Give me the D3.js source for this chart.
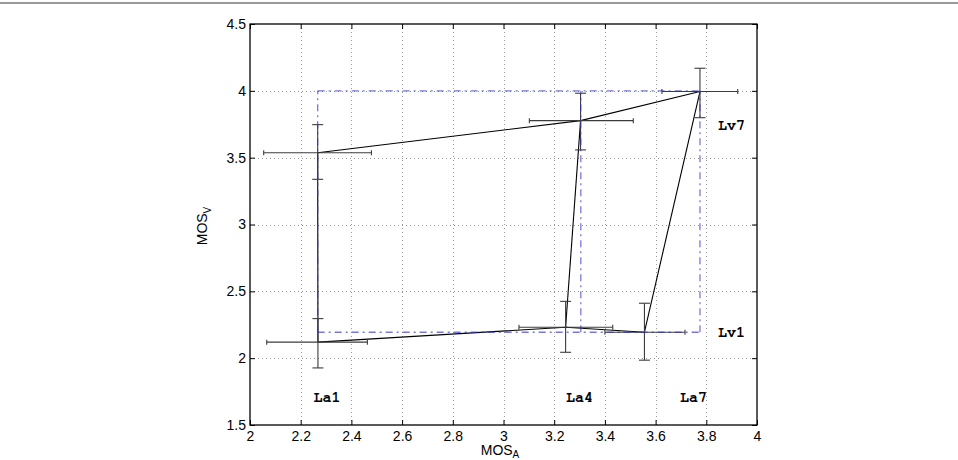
<!DOCTYPE html>
<html>
<head>
<meta charset="utf-8">
<script src="https://cdn.jsdelivr.net/npm/d3@7"></script>
<style>
  html, body { margin: 0; padding: 0; background: #fff; }
  svg { display: block; }
</style>
</head>
<body>
<svg id="chart" width="958" height="460"></svg>
<script>
// ---------- data ----------
const audioLevels = ["La1", "La4", "La7"];
const videoLevels = ["Lv1", "Lv7"];

// Lv1 row (MOS_A, MOS_V and error-bar bounds per audio level)
const lv1_mosA   = [2.268, 3.245, 3.556];
const lv1_mosV   = [2.120, 2.231, 2.194];
const lv1_aLow   = [2.066, 3.061, 3.400];
const lv1_aHigh  = [2.463, 3.431, 3.716];
const lv1_vLow   = [1.927, 2.044, 1.985];
const lv1_vHigh  = [2.296, 2.425, 2.411];

// Lv7 row
const lv7_mosA   = [2.267, 3.304, 3.775];
const lv7_mosV   = [3.537, 3.777, 3.995];
const lv7_aLow   = [2.054, 3.102, 3.625];
const lv7_aHigh  = [2.479, 3.512, 3.924];
const lv7_vLow   = [3.338, 3.558, 3.799];
const lv7_vHigh  = [3.747, 3.982, 4.169];

// reference grid (blue dash-dot)
const refA = [2.267, 3.305, 3.775];
const refV = [2.194, 4.0];

// text annotations (data coordinates)
const annotLabels = ["La1", "La4", "La7", "Lv1", "Lv7"];
const annotX      = [2.25, 3.247, 3.696, 3.846, 3.846];
const annotY      = [1.675, 1.675, 1.675, 2.161, 3.707];

const xTicks = [2, 2.2, 2.4, 2.6, 2.8, 3, 3.2, 3.4, 3.6, 3.8, 4];
const yTicks = [1.5, 2, 2.5, 3, 3.5, 4, 4.5];
const xTickLabels = ["2", "2.2", "2.4", "2.6", "2.8", "3", "3.2", "3.4", "3.6", "3.8", "4"];
const yTickLabels = ["1.5", "2", "2.5", "3", "3.5", "4", "4.5"];

// ---------- layout ----------
const svg = d3.select("#chart");
const L = 250, R = 757, T = 24, B = 425;
const x = d3.scaleLinear().domain([2, 4]).range([L, R]);
const y = d3.scaleLinear().domain([1.5, 4.5]).range([B, T]);

// top page separator
svg.append("line").attr("x1", 0).attr("x2", 958).attr("y1", 3).attr("y2", 3)
  .attr("stroke", "#9a9a9a").attr("stroke-width", 2);

// grid
const grid = svg.append("g").attr("stroke", "#999").attr("stroke-width", 1)
  .attr("stroke-dasharray", "1,3");
grid.selectAll(".gx").data(xTicks.slice(1, -1)).join("line")
  .attr("x1", d => Math.round(x(d)) + 0.5).attr("x2", d => Math.round(x(d)) + 0.5)
  .attr("y1", T).attr("y2", B);
grid.selectAll(".gy").data(yTicks.slice(1, -1)).join("line")
  .attr("y1", d => Math.round(y(d)) + 0.5).attr("y2", d => Math.round(y(d)) + 0.5)
  .attr("x1", L).attr("x2", R);

// axes
const fontFam = "'Liberation Sans', Arial, Helvetica, sans-serif";
const fmtX = d => xTickLabels[xTicks.indexOf(d)];
const fmtY = d => yTickLabels[yTicks.indexOf(d)];

const gB = svg.append("g").attr("transform", `translate(0,${B})`)
  .call(d3.axisBottom(x).tickValues(xTicks).tickFormat(fmtX).tickSize(-5).tickPadding(6));
const gT = svg.append("g").attr("transform", `translate(0,${T})`)
  .call(d3.axisTop(x).tickValues(xTicks).tickFormat("").tickSize(-5));
const gL = svg.append("g").attr("transform", `translate(${L},0)`)
  .call(d3.axisLeft(y).tickValues(yTicks).tickFormat(fmtY).tickSize(-5).tickPadding(4));
const gR = svg.append("g").attr("transform", `translate(${R},0)`)
  .call(d3.axisRight(y).tickValues(yTicks).tickFormat("").tickSize(-5));
[gB, gT, gL, gR].forEach(g => {
  g.select(".domain").remove();
  g.selectAll(".tick line").attr("stroke", "#000").attr("stroke-width", 1);
  g.selectAll("text").attr("font-family", fontFam).attr("font-size", 14).attr("fill", "#000");
});

// data series helpers
const rows = [
  { name: videoLevels[0], a: lv1_mosA, v: lv1_mosV, aLo: lv1_aLow, aHi: lv1_aHigh, vLo: lv1_vLow, vHi: lv1_vHigh },
  { name: videoLevels[1], a: lv7_mosA, v: lv7_mosV, aLo: lv7_aLow, aHi: lv7_aHigh, vLo: lv7_vLow, vHi: lv7_vHigh }
];
const line = d3.line().x(d => x(d[0])).y(d => y(d[1]));

// black connecting lines: along rows (same video level)
const plotG = svg.append("g");
rows.forEach(r => {
  const pts = audioLevels.map((_, i) => [r.a[i], r.v[i]]);
  plotG.append("path").attr("d", line(pts)).attr("fill", "none")
    .attr("stroke", "#000").attr("stroke-width", 1.1);
});
// along columns (same audio level)
audioLevels.forEach((_, i) => {
  const pts = rows.map(r => [r.a[i], r.v[i]]);
  plotG.append("path").attr("d", line(pts)).attr("fill", "none")
    .attr("stroke", "#000").attr("stroke-width", 1.1);
});

// error bars
const eb = svg.append("g").attr("stroke", "#3c3c3c").attr("stroke-width", 1.1).attr("fill", "none");
rows.forEach(r => {
  audioLevels.forEach((_, i) => {
    const cx = x(r.a[i]), cy = y(r.v[i]);
    const xl = x(r.aLo[i]), xr = x(r.aHi[i]);
    eb.append("line").attr("x1", xl).attr("x2", xr).attr("y1", cy).attr("y2", cy);
    eb.append("line").attr("x1", xl).attr("x2", xl).attr("y1", cy - 2.5).attr("y2", cy + 2.5);
    eb.append("line").attr("x1", xr).attr("x2", xr).attr("y1", cy - 2.5).attr("y2", cy + 2.5);
    const yt = y(r.vHi[i]), yb = y(r.vLo[i]);
    eb.append("line").attr("x1", cx).attr("x2", cx).attr("y1", yt).attr("y2", yb);
    eb.append("line").attr("x1", cx - 5.5).attr("x2", cx + 5.5).attr("y1", yt).attr("y2", yt);
    eb.append("line").attr("x1", cx - 5.5).attr("x2", cx + 5.5).attr("y1", yb).attr("y2", yb);
  });
});

// blue reference dash-dot grid
const blue = svg.append("g").attr("fill", "none").attr("stroke", "#2f2fc8")
  .attr("stroke-opacity", 0.65).attr("stroke-width", 1.3).attr("stroke-dasharray", "7,4,2,4");
const aMin = d3.min(refA), aMax = d3.max(refA), vMin = d3.min(refV), vMax = d3.max(refV);
refV.forEach(v => {
  blue.append("path").attr("d", line([[aMin, v], [aMax, v]]));
});
refA.forEach(a => {
  blue.append("path").attr("d", line([[a, vMin], [a, vMax]]));
});

// annotations (Courier-like bold)
svg.append("g").selectAll("text").data(annotLabels).join("text")
  .attr("x", (d, i) => x(annotX[i])).attr("y", (d, i) => y(annotY[i]))
  .style("font-family", "\"FreeMono\", \"Nimbus Mono PS\", \"Courier New\", monospace")
  .style("font-weight", "bold").style("font-size", "15px").attr("fill", "#000")
  .text(d => d);

// box
svg.append("rect").attr("x", L).attr("y", T).attr("width", R - L).attr("height", B - T)
  .attr("fill", "none").attr("stroke", "#000").attr("stroke-width", 1.3);

// axis labels
const xl = svg.append("text").attr("x", 500).attr("y", 455).attr("text-anchor", "middle")
  .attr("font-family", fontFam).attr("font-size", 14).attr("fill", "#000");
xl.append("tspan").text("MOS");
xl.append("tspan").attr("font-size", 10).attr("dy", 3).text("A");

const yl = svg.append("text").attr("transform", `translate(207,226) rotate(-90)`)
  .attr("text-anchor", "middle")
  .attr("font-family", fontFam).attr("font-size", 14).attr("fill", "#000");
yl.append("tspan").text("MOS");
yl.append("tspan").attr("font-size", 10).attr("dy", 4).text("V");
</script>
</body>
</html>
